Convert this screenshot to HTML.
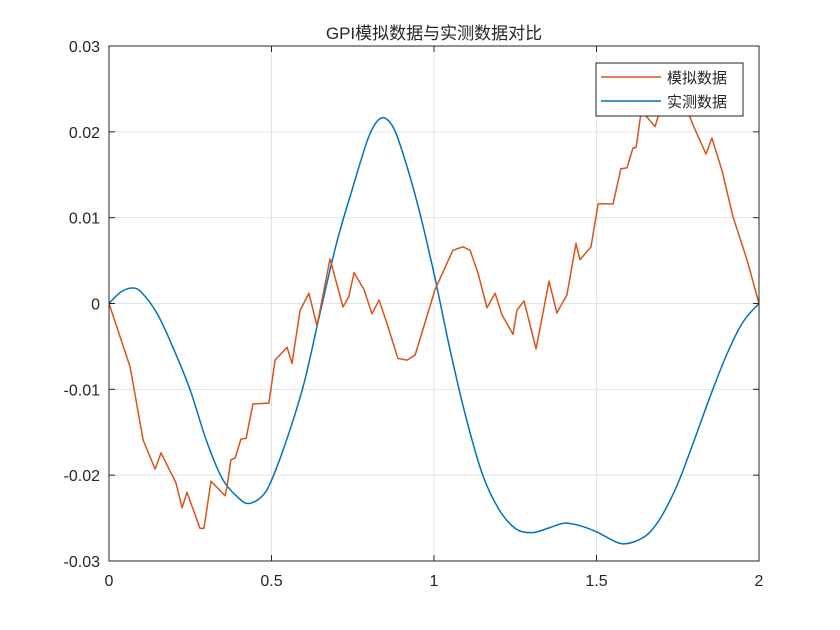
<!DOCTYPE html>
<html><head><meta charset="utf-8"><style>
body{margin:0;background:#fff;width:840px;height:630px;overflow:hidden}
svg{display:block}
text{font-family:"Liberation Sans","Noto Sans CJK SC",sans-serif;fill:#262626}
</style></head><body>
<svg id="chart" width="840" height="630">
<rect x="0" y="0" width="840" height="630" fill="#fff"/>
<g id="grid"></g>
<g id="series"></g>
<rect x="109" y="46" width="650" height="515" fill="none" stroke="#262626" stroke-width="1"/>
<g id="ticks"></g>
<text x="434" y="39" text-anchor="middle" font-size="17">GPI模拟数据与实测数据对比</text>
<g>
<rect x="596" y="63" width="147" height="53" fill="#fff" stroke="#262626"/>
<line x1="601" y1="77" x2="661" y2="77" stroke="#D95319" stroke-width="1.5"/>
<text x="667" y="83" font-size="15">模拟数据</text>
<line x1="601" y1="101" x2="661" y2="101" stroke="#0072BD" stroke-width="1.5"/>
<text x="667" y="107" font-size="15">实测数据</text>
</g>
</svg>
<script>
const xTicks=[0,0.5,1,1.5,2];
const xTickLabels=["0","0.5","1","1.5","2"];
const yTicks=[-0.03,-0.02,-0.01,0,0.01,0.02,0.03];
const yTickLabels=["-0.03","-0.02","-0.01","0","0.01","0.02","0.03"];
const simX=[0,0.065,0.105,0.142,0.160,0.206,0.225,0.240,0.280,0.292,0.314,0.357,0.363,0.375,0.388,0.406,0.422,0.443,0.492,0.511,0.548,0.563,0.588,0.615,0.640,0.680,0.720,0.738,0.754,0.785,0.809,0.831,0.855,0.889,0.917,0.942,1.003,1.058,1.089,1.111,1.135,1.163,1.188,1.209,1.243,1.255,1.277,1.314,1.354,1.378,1.409,1.437,1.449,1.483,1.505,1.551,1.575,1.594,1.612,1.622,1.637,1.649,1.680,1.689,1.726,1.757,1.788,1.797,1.837,1.855,1.886,1.920,1.963,2.0];
const simY=[0,-0.0074,-0.0159,-0.0193,-0.0174,-0.0209,-0.0238,-0.0220,-0.0262,-0.0262,-0.0207,-0.0224,-0.0214,-0.0182,-0.0180,-0.0158,-0.0157,-0.0117,-0.0116,-0.0066,-0.0051,-0.0070,-0.0008,0.0012,-0.0026,0.0052,-0.0004,0.0008,0.0036,0.0016,-0.0012,0.0004,-0.0023,-0.0064,-0.0066,-0.0060,0.0016,0.0062,0.0066,0.0062,0.0036,-0.0005,0.0012,-0.0013,-0.0036,-0.0008,0.0003,-0.0053,0.0026,-0.0011,0.0010,0.0070,0.0051,0.0066,0.0116,0.0116,0.0157,0.0158,0.0181,0.0182,0.0222,0.0220,0.0206,0.0217,0.0237,0.0231,0.0217,0.0208,0.0174,0.0193,0.0155,0.0101,0.0051,0];
const measX=[0,0.035,0.07,0.1,0.15,0.2,0.25,0.3,0.35,0.4,0.43,0.47,0.5,0.55,0.6,0.65,0.7,0.75,0.8,0.837,0.87,0.9,0.95,1.0,1.05,1.1,1.15,1.2,1.25,1.3,1.35,1.4,1.45,1.5,1.55,1.58,1.62,1.66,1.7,1.75,1.8,1.85,1.9,1.95,2.0];
const measY=[0,0.0013,0.0018,0.0013,-0.0013,-0.0054,-0.0101,-0.0160,-0.0205,-0.0227,-0.0233,-0.0225,-0.0206,-0.0155,-0.0093,-0.0010,0.0070,0.0135,0.0195,0.0216,0.0208,0.0180,0.0115,0.0035,-0.0055,-0.0135,-0.0200,-0.0240,-0.0262,-0.0267,-0.0262,-0.0256,-0.0259,-0.0266,-0.0276,-0.0280,-0.0277,-0.0268,-0.0248,-0.0210,-0.0160,-0.0108,-0.0060,-0.0022,0];
const X0=109,X1=759,Y0=561,Y1=46;
const sx=v=>X0+(v-0)/(2-0)*(X1-X0);
const sy=v=>Y0-(v+0.03)/0.06*(Y0-Y1);
const NS="http://www.w3.org/2000/svg";
const grid=document.getElementById('grid'),ticks=document.getElementById('ticks'),ser=document.getElementById('series');
function mk(tag,attrs,parent){const e=document.createElementNS(NS,tag);for(const k in attrs)e.setAttribute(k,attrs[k]);parent.appendChild(e);return e;}
xTicks.forEach((t,i)=>{
 const g=mk('line',{x1:sx(t),x2:sx(t),y1:Y1,y2:Y0,stroke:'#e3e3e3','stroke-width':1},grid);
 
 
 mk('line',{x1:sx(t),x2:sx(t),y1:Y0,y2:Y0-6,stroke:'#262626'},ticks);
 mk('line',{x1:sx(t),x2:sx(t),y1:Y1,y2:Y1+6,stroke:'#262626'},ticks);
 const l=mk('text',{x:sx(t),y:Y0+25,'text-anchor':'middle','font-size':16},ticks);
 l.textContent=xTickLabels[i];
 
 
});
yTicks.forEach((t,i)=>{
 const g=mk('line',{x1:X0,x2:X1,y1:sy(t),y2:sy(t),stroke:'#e3e3e3','stroke-width':1},grid);
 
 
 mk('line',{x1:X0,x2:X0+6,y1:sy(t),y2:sy(t),stroke:'#262626'},ticks);
 mk('line',{x1:X1,x2:X1-6,y1:sy(t),y2:sy(t),stroke:'#262626'},ticks);
 const l=mk('text',{x:X0-9,y:sy(t)+6,'text-anchor':'end','font-size':16},ticks);
 l.textContent=yTickLabels[i];
 
 
});
function smooth(xs,ys){
 const p=xs.map((x,i)=>[sx(x),sy(ys[i])]);
 let d='M'+p[0][0]+','+p[0][1];
 for(let i=0;i<p.length-1;i++){
  const a=p[Math.max(i-1,0)],b=p[i],c=p[i+1],e=p[Math.min(i+2,p.length-1)];
  const c1=[b[0]+(c[0]-a[0])/6,b[1]+(c[1]-a[1])/6],c2=[c[0]-(e[0]-b[0])/6,c[1]-(e[1]-b[1])/6];
  d+=' C'+c1.join(',')+' '+c2.join(',')+' '+c.join(',');
 }
 return d;
}
const meas=mk('path',{d:smooth(measX,measY),fill:'none',stroke:'#0072BD','stroke-width':1.5},ser);


const sim=mk('polyline',{points:simX.map((x,i)=>sx(x)+','+sy(simY[i])).join(' '),fill:'none',stroke:'#D95319','stroke-width':1.5,'stroke-linejoin':'round'},ser);


</script>
</body></html>
